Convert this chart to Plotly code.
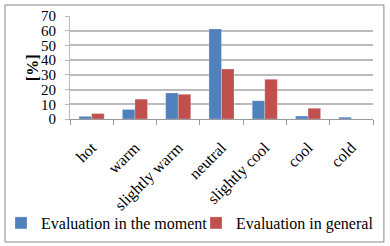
import plotly.graph_objects as go

categories = ["hot", "warm", "slightly warm", "neutral", "slightly cool", "cool", "cold"]
moment = [1.8, 6.5, 17.7, 61.2, 12.4, 2.0, 1.2]
general = [3.7, 13.5, 16.8, 34.0, 27.0, 7.3, 0.0]
y_ticks = [0, 10, 20, 30, 40, 50, 60, 70]

FONT = "Liberation Serif, Times New Roman, serif"
BLUE = "#4F81BD"
RED = "#C0504D"

fig = go.Figure()
fig.add_trace(go.Bar(x=categories, y=moment, name="Evaluation in the moment", legend="legend",
                     marker=dict(color=BLUE, line=dict(color="rgba(255,255,255,0.5)", width=0.5))))
fig.add_trace(go.Bar(x=categories, y=general, name="Evaluation in general", legend="legend2",
                     marker=dict(color=RED, line=dict(color="rgba(255,255,255,0.5)", width=0.5))))

legend_common = dict(orientation="h", xref="container", yref="container",
                     xanchor="left", y=1 - 223 / 246, yanchor="middle",
                     font=dict(family=FONT, size=16, color="black"),
                     itemwidth=30, bgcolor="rgba(0,0,0,0)")

fig.update_layout(
    width=390, height=246,
    margin=dict(l=70, r=17, t=16, b=127, autoexpand=False),
    paper_bgcolor="white", plot_bgcolor="white",
    barmode="group", bargap=0.42, bargroupgap=0.0,
    font=dict(family=FONT, size=14, color="black"),
    showlegend=True,
    legend=dict(x=1 / 390, **legend_common),
    legend2=dict(x=196 / 390, **legend_common),
    xaxis=dict(tickangle=-45, ticks="outside", tickson="boundaries", ticklen=5,
               tickcolor="#999999", showline=True, linecolor="#999999", linewidth=1,
               tickfont=dict(family=FONT, size=16, color="black"), showgrid=False,
               ticklabelstandoff=12, automargin=False),
    yaxis=dict(range=[0, 70], tickvals=y_ticks, ticks="outside", ticklen=4,
               tickcolor="#BBBBBB", showline=True, linecolor="#BBBBBB", linewidth=1,
               showgrid=True, gridcolor="#BBBBBB", gridwidth=1.5, ticklabelstandoff=6,
               tickfont=dict(family=FONT, size=15, color="black"), zeroline=False,
               automargin=False),
    annotations=[dict(text="<b>[%]</b>", x=-0.158, y=0.5, xref="paper", yref="paper",
                      textangle=-90, showarrow=False, font=dict(family=FONT, size=16, color="black"))],
    shapes=[dict(type="rect", xref="paper", yref="paper", x0=-0.2145, x1=1.036, y0=-1.194, y1=1.107,
                 line=dict(color="#888888", width=1), fillcolor="rgba(0,0,0,0)", layer="below")],
)

fig.write_html("out.html", config={"displayModeBar": False},
               post_script="document.body.style.margin='0';document.body.style.overflow='hidden';")
